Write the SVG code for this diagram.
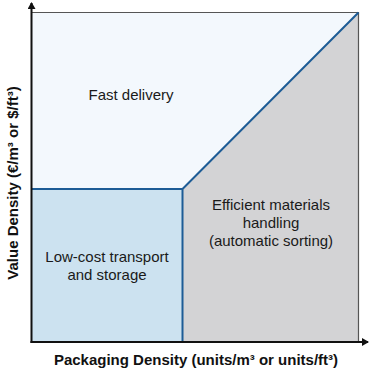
<svg xmlns="http://www.w3.org/2000/svg" width="371" height="372" viewBox="0 0 371 372">
  <style>
    .lbl { font-family: "Liberation Sans", Arial, sans-serif; font-size: 15px; fill: #1a1a1a; text-anchor: middle; }
    .axl { font-family: "Liberation Sans", Arial, sans-serif; font-size: 15px; font-weight: bold; fill: #111; text-anchor: middle; }
    .axis { stroke: #111; stroke-width: 2; fill: none; }
    .blue { stroke: #1d5c96; stroke-width: 2; fill: none; }
    .frame { stroke: #555; stroke-width: 1.2; fill: none; }
  </style>
  <defs>
    <marker id="arr" markerWidth="8" markerHeight="8" refX="6" refY="4" orient="auto" markerUnits="userSpaceOnUse">
      <path d="M0,0 L7,4 L0,8 Z" fill="#111"/>
    </marker>
  </defs>
  <rect width="371" height="372" fill="#fff"/>

  <g id="fast-delivery">
    <rect x="31.5" y="12.5" width="327" height="329.5" fill="#f3f8fd"/>
    <text class="lbl" x="131" y="100">Fast delivery</text>
  </g>

  <g id="efficient-handling">
    <polygon points="182.5,189 358.5,12.5 358.5,342 182.5,342" fill="#d3d3d5"/>
    <text class="lbl" x="271" y="210">Efficient materials</text>
    <text class="lbl" x="271" y="228">handling</text>
    <text class="lbl" x="271" y="246">(automatic sorting)</text>
  </g>

  <g id="low-cost">
    <rect x="31.5" y="189" width="151" height="153" fill="#cce2f0"/>
    <text class="lbl" x="107" y="262">Low-cost transport</text>
    <text class="lbl" x="107" y="280">and storage</text>
  </g>

  <g id="connectors">
    <path class="frame" d="M31.5,12.5 H358.5 V342"/>
    <path class="blue" d="M31.5,189 H182.5 V342 M182.5,189 L358.5,12.5"/>
    <line class="axis" x1="31.5" y1="343" x2="31.5" y2="3" marker-end="url(#arr)"/>
    <line class="axis" x1="30.5" y1="342" x2="368" y2="342" marker-end="url(#arr)"/>
  </g>

  <g id="axis-labels">
    <text class="axl" x="196" y="365">Packaging Density (units/m³ or units/ft³)</text>
    <text class="axl" transform="translate(18,183) rotate(-90)">Value Density (€/m³ or $/ft³)</text>
  </g>
</svg>
